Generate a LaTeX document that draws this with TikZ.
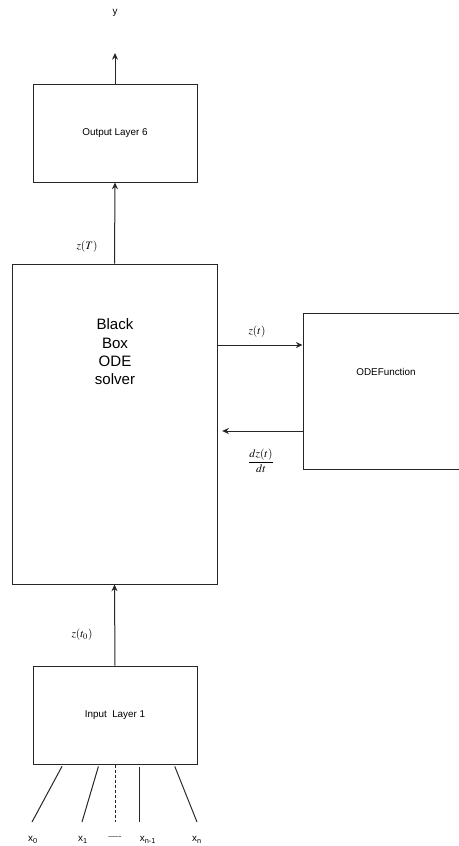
\documentclass[tikz,border=0pt]{standalone}
\usepackage{amsmath}
\usepackage{mathptmx}
\usepackage{fontspec}
\setmainfont{Liberation Sans}
\usetikzlibrary{arrows.meta}
\definecolor{figTrait}{RGB}{38,38,38}

\begin{document}
\begin{tikzpicture}[
  x=0.75pt, y=-0.75pt, every node/.style={font=\fontsize{7.4}{9}\selectfont, inner sep=0pt},
  bloc/.style={draw=figTrait, line width=0.75pt, minimum width=123pt,
               minimum height=73.5pt, align=center},
  fl/.style={-{Stealth[length=5pt,width=4.5pt]}, line width=0.75pt, figTrait},
  lien/.style={line width=0.75pt, figTrait},
  lbl/.style={font=\fontsize{8.5}{10}\selectfont}
]
\useasboundingbox (0,0) rectangle (459,846);

\node[bloc] (out) at (115,133) {Output Layer 6};
\node[bloc, minimum width=153.75pt, minimum height=240pt] (bb) at (114.5,424) {};
\node[font=\fontsize{11.3}{13.7}\selectfont, align=center] (bbtxt) at (115,352)
     {Black\\Box\\ODE\\solver};
\node[bloc, minimum width=124.5pt, minimum height=117pt] (ode) at (386,391) {};
\node (odetxt) at (386,372) {ODEFunction};
\node[bloc] (inp) at (115,715) {Input\ \ Layer 1};

% sortie y
\node (y) at (115,13) {y};
\coordinate (ybout) at (115,53);
\draw[fl] (out.north) -- (ybout);

% boucle du solveur
\draw[fl] (bb.north) -- (out.south);
\node[lbl] (zT) at (87,247) {$z(T)$};
\draw[fl] (bb.east |- 0,345) -- (ode.west |- 0,345);
\node[lbl] (zt) at (257,332) {$z(t)$};
\draw[fl, shorten >=3.5pt] (ode.west |- 0,431) -- (bb.east |- 0,431);
\node[lbl] (dz) at (261,461) {$\dfrac{dz(t)}{dt}$};
\draw[fl] (inp.north) -- (bb.south);
\node[lbl] (zt0) at (82,635) {$z(t_0)$};

% entrees
\node (x0) at (33,840) {x\textsubscript{0}};
\node (x1) at (83,840) {x\textsubscript{1}};
\node[text=figTrait!80] (pts) at (115,838) {----};
\node (xn1) at (148,840) {x\textsubscript{n-1}};
\node (xn) at (197,840) {x\textsubscript{n}};
\foreach \h/\e in {63/32, 99/82, 139/139, 174/197}
  \draw[lien, shorten <=1.5pt] (inp.south -| \h,0) -- (\e,822);
\draw[lien, dash pattern=on 2.25pt off 1.5pt] (inp.south) -- (pts.north |- 0,822);
\end{tikzpicture}
\end{document}
